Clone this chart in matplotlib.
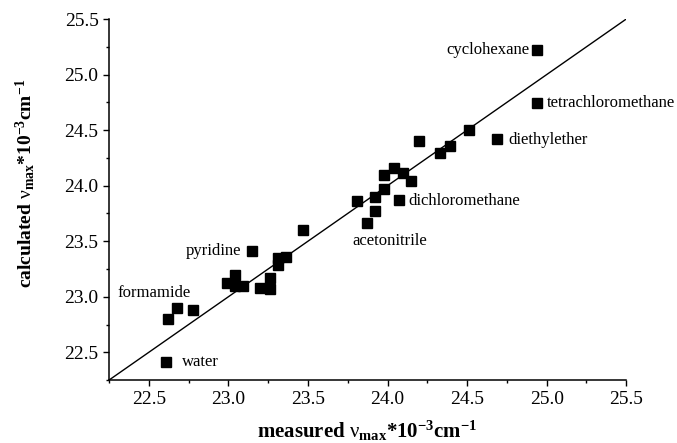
import numpy as np
import matplotlib
matplotlib.use("Agg")
import matplotlib.pyplot as plt
from matplotlib.ticker import MultipleLocator, FormatStrFormatter

plt.rcParams['font.family'] = ['Liberation Serif', 'DejaVu Serif']
plt.rcParams['mathtext.fontset'] = 'custom'
plt.rcParams['mathtext.rm'] = 'Liberation Serif'
plt.rcParams['mathtext.bf'] = 'Liberation Serif:bold'
plt.rcParams['mathtext.it'] = 'Liberation Serif:italic'

# measured vs calculated nu_max (10^3 cm^-1)
measured = [22.61, 22.62, 22.68, 22.78, 22.99, 23.04, 23.04, 23.09, 23.15, 23.20,
            23.26, 23.26, 23.31, 23.31, 23.36, 23.47, 23.81, 23.87, 23.92, 23.92,
            23.98, 23.98, 24.04, 24.07, 24.10, 24.15, 24.20, 24.33, 24.39, 24.51,
            24.69, 24.94, 24.94]
calculated = [22.41, 22.80, 22.90, 22.88, 23.12, 23.20, 23.10, 23.10, 23.41, 23.08,
              23.17, 23.07, 23.35, 23.29, 23.36, 23.60, 23.86, 23.66, 23.90, 23.77,
              24.10, 23.97, 24.16, 23.87, 24.11, 24.04, 24.40, 24.29, 24.36, 24.50,
              24.42, 25.22, 24.74]

# solvent labels: text, x, y, alignment
label_text = ['cyclohexane', 'tetrachloromethane', 'diethylether', 'dichloromethane',
              'acetonitrile', 'pyridine', 'formamide', 'water']
label_x = [24.89, 25.0, 24.76, 24.13, 23.78, 23.08, 22.30, 22.71]
label_y = [25.22, 24.74, 24.41, 23.86, 23.50, 23.41, 23.03, 22.41]
label_ha = ['right', 'left', 'left', 'left', 'left', 'right', 'left', 'left']

fig = plt.figure(figsize=(6.77, 4.43), dpi=100)
ax = fig.add_axes([0.161, 0.142, 0.764, 0.815])

ax.plot([22.25, 25.5], [22.25, 25.5], color='black', linewidth=1.0)
ax.plot(measured, calculated, 's', color='black', markersize=6.5, linestyle='none')

for t, x, y, ha in zip(label_text, label_x, label_y, label_ha):
    ax.text(x, y, t, ha=ha, va='center', fontsize=12.0)

ax.set_xlim(22.25, 25.5)
ax.set_ylim(22.25, 25.5)
ax.xaxis.set_minor_locator(MultipleLocator(0.25))
ax.yaxis.set_minor_locator(MultipleLocator(0.25))
ax.xaxis.set_major_formatter(FormatStrFormatter('%.1f'))
ax.yaxis.set_major_formatter(FormatStrFormatter('%.1f'))
ax.set_xticks([22.5, 23.0, 23.5, 24.0, 24.5, 25.0, 25.5])
ax.set_yticks([22.5, 23.0, 23.5, 24.0, 24.5, 25.0, 25.5])

ax.spines['top'].set_visible(False)
ax.spines['right'].set_visible(False)
ax.spines['left'].set_linewidth(1.1)
ax.spines['bottom'].set_linewidth(1.1)
ax.tick_params(which='major', direction='out', length=4.5, width=1.0, labelsize=14, pad=3)
ax.tick_params(which='minor', direction='out', length=2.5, width=1.0)

ax.set_xlabel(r'measured $\mathrm{ν}_{\mathbf{max}}$*10$^{\mathbf{-3}}$cm$^{\mathbf{-1}}$',
              fontsize=15, fontweight='bold')
ax.set_ylabel(r'calculated $\mathrm{ν}_{\mathbf{max}}$*10$^{\mathbf{-3}}$cm$^{\mathbf{-1}}$',
              fontsize=14, fontweight='bold')
ax.xaxis.set_label_coords(0.5, -0.108)
ax.yaxis.set_label_coords(-0.14, 0.546)

fig.savefig('out.png', dpi=100)
